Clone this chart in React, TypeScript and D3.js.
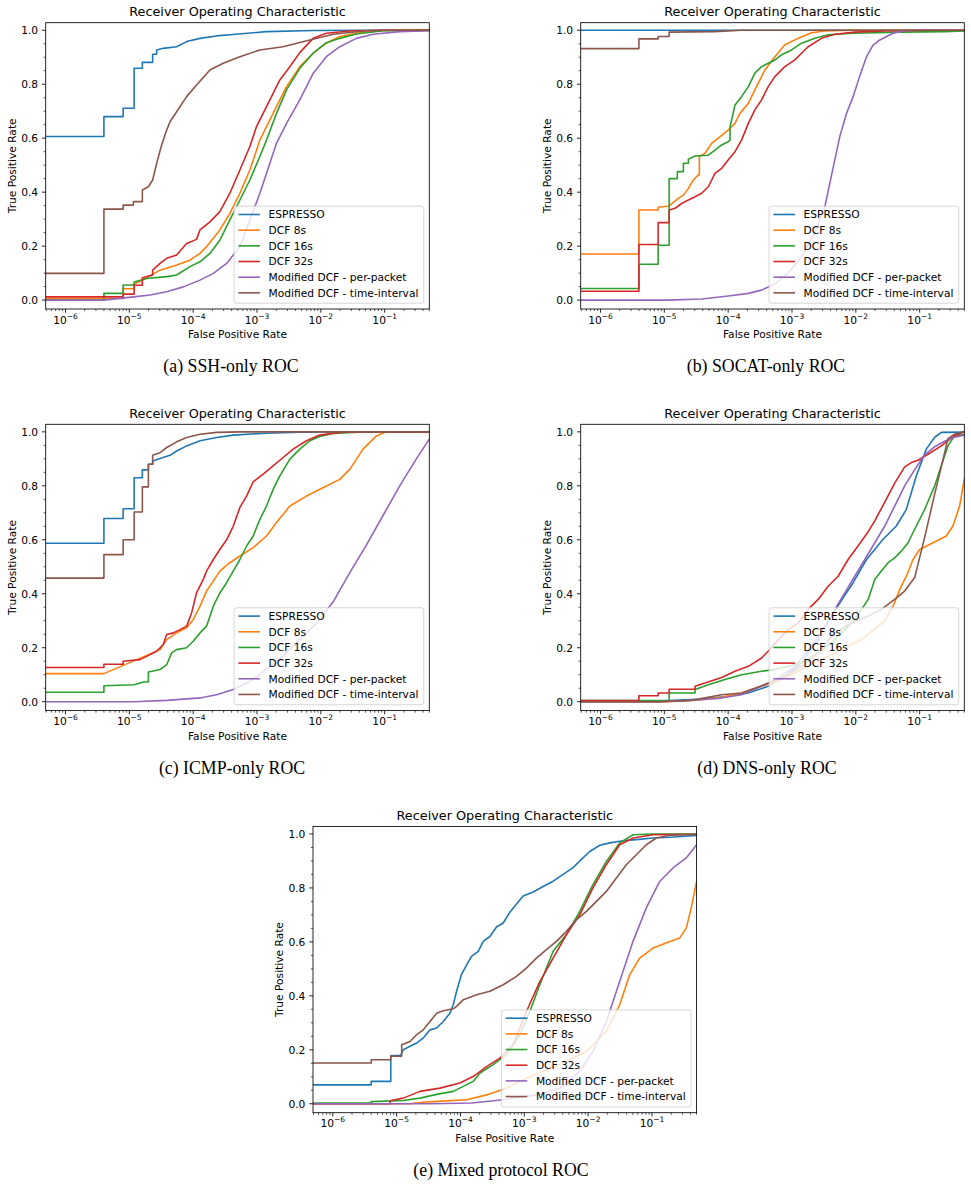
import React from 'react';
import * as d3 from 'd3';

type Pt = [number, number]; // [false positive rate, true positive rate]

// ---------- (a) SSH-only ----------
const sshEspresso: Pt[] = [
  [0, 0.606], [4.0e-6, 0.606], [4.0e-6, 0.68], [8.0e-6, 0.68], [8.0e-6, 0.711], [1.19e-5, 0.711],
  [1.19e-5, 0.859], [1.6e-5, 0.859], [1.6e-5, 0.881], [2.32e-5, 0.881], [2.32e-5, 0.911], [2.68e-5, 0.911],
  [2.68e-5, 0.927], [3.4e-5, 0.933], [5.5e-5, 0.939], [7.9e-5, 0.958], [1.28e-4, 0.97], [2.3e-4, 0.979],
  [4.2e-4, 0.984], [1.4e-3, 0.995], [7.6e-3, 0.999], [0.05, 1.0], [1, 1],
];
const sshDcf8: Pt[] = [
  [0, 0.006], [8.0e-6, 0.006], [8.0e-6, 0.042], [1.19e-5, 0.042], [1.19e-5, 0.06], [1.6e-5, 0.074],
  [1.87e-5, 0.083], [3.03e-5, 0.111], [5.51e-5, 0.13], [8.9e-5, 0.148], [1.28e-4, 0.173], [1.62e-4, 0.198],
  [2.07e-4, 0.229], [2.62e-4, 0.26], [3.76e-4, 0.321], [5.4e-4, 0.396], [7.73e-4, 0.482], [1.11e-3, 0.593],
  [1.41e-3, 0.643], [2.02e-3, 0.717], [2.9e-3, 0.791], [4.68e-3, 0.865], [7.57e-3, 0.915], [1.22e-2, 0.952],
  [1.98e-2, 0.977], [3.6e-2, 0.989], [6.57e-2, 0.997], [0.172, 1.0], [1, 1],
];
const sshDcf16: Pt[] = [
  [0, 0.0], [4.0e-6, 0.0], [4.0e-6, 0.025], [8.0e-6, 0.025], [8.0e-6, 0.056], [1.19e-5, 0.056],
  [1.19e-5, 0.067], [1.87e-5, 0.08], [3.85e-5, 0.087], [5.51e-5, 0.093], [8.9e-5, 0.124], [1.28e-4, 0.142],
  [1.83e-4, 0.173], [2.62e-4, 0.222], [3.76e-4, 0.297], [5.4e-4, 0.371], [7.73e-4, 0.445], [1.11e-3, 0.532],
  [1.41e-3, 0.593], [2.02e-3, 0.692], [2.9e-3, 0.779], [4.68e-3, 0.859], [7.57e-3, 0.915], [1.22e-2, 0.954],
  [1.98e-2, 0.97], [3.6e-2, 0.986], [9.4e-2, 0.998], [1, 1],
];
const sshDcf32: Pt[] = [
  [0, 0.012], [8.0e-6, 0.012], [8.0e-6, 0.022], [1.19e-5, 0.022], [1.19e-5, 0.055], [1.6e-5, 0.055],
  [1.6e-5, 0.083], [2.32e-5, 0.093], [2.32e-5, 0.111], [3.03e-5, 0.136], [3.85e-5, 0.155], [5.51e-5, 0.167],
  [7.9e-5, 0.21], [1.13e-4, 0.225], [1.28e-4, 0.26], [1.83e-4, 0.29], [2.62e-4, 0.328], [3.76e-4, 0.396],
  [5.4e-4, 0.482], [7.73e-4, 0.569], [9.83e-4, 0.643], [1.41e-3, 0.717], [2.28e-3, 0.816], [3.27e-3, 0.865],
  [4.68e-3, 0.917], [7.57e-3, 0.97], [1.22e-2, 0.989], [2.84e-2, 0.997], [9.4e-2, 1.0], [1, 1],
];
const sshPerPacket: Pt[] = [
  [0, 0], [4.0e-6, 0], [1.16e-5, 0.012], [2.11e-5, 0.019], [3.85e-5, 0.031], [7.0e-5, 0.049],
  [1.28e-4, 0.074], [2.07e-4, 0.099], [3.34e-4, 0.136], [5.4e-4, 0.198], [7.73e-4, 0.297], [1.11e-3, 0.396],
  [1.41e-3, 0.47], [2.02e-3, 0.581], [2.9e-3, 0.655], [4.68e-3, 0.742], [7.57e-3, 0.84], [1.22e-2, 0.902],
  [1.98e-2, 0.939], [3.6e-2, 0.97], [6.57e-2, 0.985], [0.172, 0.995], [1, 1],
];
const sshTimeInterval: Pt[] = [
  [0, 0.099], [4.0e-6, 0.099], [4.0e-6, 0.337], [8.0e-6, 0.337], [8.0e-6, 0.352], [1.16e-5, 0.352],
  [1.16e-5, 0.365], [1.6e-5, 0.365], [1.6e-5, 0.408], [1.99e-5, 0.42], [2.32e-5, 0.445], [2.68e-5, 0.507],
  [3.21e-5, 0.575], [3.85e-5, 0.63], [4.34e-5, 0.661], [5.51e-5, 0.698], [7.9e-5, 0.754], [1.13e-4, 0.797],
  [1.83e-4, 0.853], [2.96e-4, 0.878], [5.4e-4, 0.902], [1.11e-3, 0.927], [2.57e-3, 0.939], [6.71e-3, 0.964],
  [1.56e-2, 0.985], [5.16e-2, 0.998], [0.1, 1.0], [1, 1],
];

// ---------- (b) SOCAT-only ----------
const socatEspresso: Pt[] = [[0, 1.0], [1, 1.0]];
const socatDcf8: Pt[] = [
  [0, 0.171], [4.0e-6, 0.171], [4.0e-6, 0.334], [8.0e-6, 0.334], [8.0e-6, 0.344], [1.19e-5, 0.349],
  [1.66e-5, 0.377], [1.99e-5, 0.389], [2.38e-5, 0.414], [2.85e-5, 0.445], [3.41e-5, 0.464], [3.54e-5, 0.464],
  [3.54e-5, 0.532], [4.34e-5, 0.544], [5.51e-5, 0.581], [7.0e-5, 0.6], [1.0e-4, 0.63], [1.28e-4, 0.655],
  [1.53e-4, 0.692], [2.07e-4, 0.729], [2.62e-4, 0.779], [3.76e-4, 0.853], [5.4e-4, 0.902], [7.73e-4, 0.946],
  [1.25e-3, 0.97], [2.02e-3, 0.991], [3.27e-3, 0.997], [8.53e-3, 1.0], [1, 1],
];
const socatDcf16: Pt[] = [
  [0, 0.043], [4.0e-6, 0.043], [4.0e-6, 0.133], [8.0e-6, 0.133], [8.0e-6, 0.203], [1.19e-5, 0.203],
  [1.19e-5, 0.45], [1.6e-5, 0.45], [1.6e-5, 0.476], [1.99e-5, 0.476], [1.99e-5, 0.507], [2.38e-5, 0.507],
  [2.38e-5, 0.522], [3.03e-5, 0.534], [4.89e-5, 0.537], [6.22e-5, 0.556], [7.9e-5, 0.575], [1.0e-4, 0.587],
  [1.07e-4, 0.593], [1.07e-4, 0.643], [1.28e-4, 0.723], [1.62e-4, 0.754], [2.07e-4, 0.791], [2.62e-4, 0.841],
  [3.34e-4, 0.865], [4.24e-4, 0.878], [5.4e-4, 0.89], [6.86e-4, 0.909], [9.83e-4, 0.927], [1.41e-3, 0.952],
  [2.28e-3, 0.97], [3.68e-3, 0.983], [8.53e-3, 0.989], [5.16e-2, 0.993], [0.246, 0.995], [1, 1],
];
const socatDcf32: Pt[] = [
  [0, 0.033], [4.0e-6, 0.033], [4.0e-6, 0.206], [8.0e-6, 0.206], [8.0e-6, 0.287], [1.19e-5, 0.287],
  [1.19e-5, 0.334], [1.47e-5, 0.34], [1.87e-5, 0.358], [2.38e-5, 0.371], [3.03e-5, 0.383], [3.85e-5, 0.396],
  [4.89e-5, 0.42], [6.22e-5, 0.47], [7.9e-5, 0.488], [1.0e-4, 0.519], [1.28e-4, 0.55], [1.62e-4, 0.593],
  [2.07e-4, 0.655], [2.62e-4, 0.705], [3.34e-4, 0.742], [4.24e-4, 0.791], [5.4e-4, 0.828], [7.73e-4, 0.865],
  [1.11e-3, 0.89], [1.79e-3, 0.939], [2.9e-3, 0.97], [4.68e-3, 0.985], [9.62e-3, 0.993], [2.84e-2, 0.997],
  [0.172, 1.0], [1, 1],
];
const socatPerPacket: Pt[] = [
  [0, 0], [1.16e-5, 0], [3.85e-5, 0.004], [1.0e-4, 0.015], [2.07e-4, 0.025], [3.34e-4, 0.037],
  [5.4e-4, 0.06], [8.72e-4, 0.1], [1.41e-3, 0.16], [2.28e-3, 0.25], [3.27e-3, 0.346], [4.4e-3, 0.49],
  [5.6e-3, 0.606], [7.1e-3, 0.69], [9.06e-3, 0.754], [1.15e-2, 0.83], [1.47e-2, 0.902], [1.86e-2, 0.945],
  [2.37e-2, 0.964], [3.83e-2, 0.989], [5.82e-2, 0.998], [9.0e-2, 1.0], [1, 1],
];
const socatTimeInterval: Pt[] = [
  [0, 0.932], [4.0e-6, 0.932], [4.0e-6, 0.968], [8.0e-6, 0.968], [8.0e-6, 0.977], [1.19e-5, 0.977],
  [1.19e-5, 0.993], [6.2e-5, 0.995], [1.62e-4, 1.0], [1, 1],
];

// ---------- (c) ICMP-only ----------
const icmpEspresso: Pt[] = [
  [0, 0.587], [4.0e-6, 0.587], [4.0e-6, 0.679], [8.0e-6, 0.679], [8.0e-6, 0.715], [1.19e-5, 0.715],
  [1.19e-5, 0.83], [1.6e-5, 0.83], [1.6e-5, 0.859], [1.99e-5, 0.859], [1.99e-5, 0.88], [2.32e-5, 0.88],
  [2.32e-5, 0.892], [3.03e-5, 0.901], [4.34e-5, 0.913], [5.51e-5, 0.929], [7.9e-5, 0.948], [1.28e-4, 0.967],
  [2.33e-4, 0.979], [4.24e-4, 0.988], [1.41e-3, 0.995], [4.68e-3, 0.999], [1.56e-2, 1.0], [1, 1],
];
const icmpDcf8: Pt[] = [
  [0, 0.104], [4.0e-6, 0.104], [3.03e-5, 0.193], [3.85e-5, 0.23], [5.51e-5, 0.255], [7.9e-5, 0.274],
  [1.0e-4, 0.304], [1.28e-4, 0.354], [1.62e-4, 0.41], [2.07e-4, 0.447], [2.62e-4, 0.484], [3.76e-4, 0.515],
  [5.4e-4, 0.54], [8.72e-4, 0.571], [1.41e-3, 0.614], [2.02e-3, 0.664], [3.27e-3, 0.725], [5.96e-3, 0.762],
  [1.08e-2, 0.793], [1.98e-2, 0.824], [2.84e-2, 0.861], [4.58e-2, 0.936], [7.41e-2, 0.985], [0.106, 1.0], [1, 1],
];
const icmpDcf16: Pt[] = [
  [0, 0.035], [4.0e-6, 0.035], [4.0e-6, 0.059], [1.19e-5, 0.063], [1.66e-5, 0.073], [1.99e-5, 0.073],
  [1.99e-5, 0.11], [3.03e-5, 0.119], [3.85e-5, 0.137], [4.6e-5, 0.181], [5.51e-5, 0.193], [7.9e-5, 0.2],
  [1.0e-4, 0.224], [1.28e-4, 0.255], [1.62e-4, 0.28], [2.07e-4, 0.354], [2.62e-4, 0.403], [3.34e-4, 0.441],
  [4.24e-4, 0.484], [5.4e-4, 0.527], [6.86e-4, 0.577], [8.72e-4, 0.614], [1.11e-3, 0.676], [1.41e-3, 0.725],
  [1.79e-3, 0.787], [2.28e-3, 0.837], [3.27e-3, 0.899], [4.68e-3, 0.936], [6.71e-3, 0.967], [9.62e-3, 0.983],
  [1.56e-2, 0.994], [3.2e-2, 0.998], [5.16e-2, 1.0], [1, 1],
];
const icmpDcf32: Pt[] = [
  [0, 0.127], [4.0e-6, 0.127], [4.0e-6, 0.139], [8.0e-6, 0.139], [8.0e-6, 0.15], [1.47e-5, 0.156],
  [1.87e-5, 0.168], [2.68e-5, 0.187], [3.41e-5, 0.212], [3.85e-5, 0.249], [4.89e-5, 0.255], [6.22e-5, 0.267],
  [7.9e-5, 0.28], [9.46e-5, 0.329], [1.13e-4, 0.403], [1.44e-4, 0.453], [1.62e-4, 0.484], [2.07e-4, 0.527],
  [2.62e-4, 0.564], [3.34e-4, 0.6], [4.24e-4, 0.65], [5.4e-4, 0.72], [6.86e-4, 0.762], [8.72e-4, 0.815],
  [1.25e-3, 0.843], [1.79e-3, 0.874], [2.57e-3, 0.905], [3.68e-3, 0.936], [5.96e-3, 0.967], [9.62e-3, 0.988],
  [1.98e-2, 0.998], [3.2e-2, 1.0], [1, 1],
];
const icmpPerPacket: Pt[] = [
  [0, 0], [1.16e-5, 0], [3.85e-5, 0.005], [1.28e-4, 0.014], [2.33e-4, 0.026], [4.24e-4, 0.045],
  [7.73e-4, 0.075], [1.41e-3, 0.12], [2.57e-3, 0.17], [4.68e-3, 0.23], [8.53e-3, 0.29], [1.56e-2, 0.37],
  [2.84e-2, 0.478], [5.16e-2, 0.58], [9.42e-2, 0.69], [0.172, 0.8], [0.313, 0.9], [0.5, 0.973], [1, 1],
];
const icmpTimeInterval: Pt[] = [
  [0, 0.458], [4.0e-6, 0.458], [4.0e-6, 0.545], [8.0e-6, 0.545], [8.0e-6, 0.6], [1.19e-5, 0.6],
  [1.19e-5, 0.703], [1.6e-5, 0.703], [1.6e-5, 0.796], [1.99e-5, 0.796], [1.99e-5, 0.88], [2.32e-5, 0.88],
  [2.32e-5, 0.913], [3.03e-5, 0.923], [3.85e-5, 0.942], [5.51e-5, 0.963], [7.9e-5, 0.979], [1.28e-4, 0.991],
  [2.33e-4, 0.998], [5.4e-4, 1.0], [1, 1],
];

// ---------- (d) DNS-only ----------
const dnsEspresso: Pt[] = [
  [0, 0], [8.1e-6, 0], [1.16e-5, 0.004], [3.85e-5, 0.01], [1.0e-4, 0.02], [2.07e-4, 0.032],
  [4.24e-4, 0.057], [7.73e-4, 0.094], [1.41e-3, 0.144], [2.57e-3, 0.23], [4.15e-3, 0.317], [6.32e-3, 0.385],
  [9.06e-3, 0.441], [1.47e-2, 0.527], [2.67e-2, 0.602], [4.31e-2, 0.651], [6.19e-2, 0.713], [8.87e-2, 0.837],
  [0.127, 0.936], [0.172, 0.98], [0.218, 0.998], [1, 1],
];
const dnsDcf8: Pt[] = [
  [0, 0], [1.16e-5, 0], [3.85e-5, 0.007], [7.9e-5, 0.016], [1.62e-4, 0.032], [3.34e-4, 0.057],
  [6.86e-4, 0.082], [1.41e-3, 0.119], [2.9e-3, 0.156], [5.96e-3, 0.193], [1.22e-2, 0.23], [2.23e-2, 0.28],
  [2.84e-2, 0.3], [3.83e-2, 0.354], [4.87e-2, 0.416], [6.19e-2, 0.465], [7.87e-2, 0.527], [0.1, 0.564],
  [0.162, 0.589], [0.261, 0.614], [0.332, 0.651], [0.422, 0.725], [0.5, 0.824], [1, 1],
];
const dnsDcf16: Pt[] = [
  [0, 0.004], [1.19e-5, 0.004], [1.19e-5, 0.032], [3.03e-5, 0.032], [3.03e-5, 0.045], [4.89e-5, 0.063],
  [8.9e-5, 0.082], [1.62e-4, 0.1], [3.34e-4, 0.113], [5.4e-4, 0.119], [8.72e-4, 0.131], [1.41e-3, 0.144],
  [2.57e-3, 0.181], [4.68e-3, 0.23], [9.62e-3, 0.304], [1.56e-2, 0.379], [1.98e-2, 0.453], [2.51e-2, 0.484],
  [3.2e-2, 0.515], [4.06e-2, 0.533], [5.16e-2, 0.558], [6.57e-2, 0.589], [8.35e-2, 0.639], [0.12, 0.713],
  [0.172, 0.8], [0.218, 0.874], [0.277, 0.948], [0.352, 0.985], [0.5, 0.99], [1, 1],
];
const dnsDcf32: Pt[] = [
  [0, 0.004], [4.0e-6, 0.004], [4.0e-6, 0.022], [8.0e-6, 0.022], [8.0e-6, 0.032], [1.19e-5, 0.032],
  [1.19e-5, 0.046], [3.03e-5, 0.046], [3.03e-5, 0.057], [4.34e-5, 0.069], [7.9e-5, 0.09], [1.28e-4, 0.113],
  [2.07e-4, 0.131], [3.34e-4, 0.162], [4.24e-4, 0.187], [6.08e-4, 0.23], [8.72e-4, 0.267], [1.25e-3, 0.292],
  [1.79e-3, 0.342], [2.57e-3, 0.379], [3.68e-3, 0.428], [5.28e-3, 0.465], [7.57e-3, 0.527], [1.08e-2, 0.577],
  [1.56e-2, 0.63], [1.98e-2, 0.67], [2.84e-2, 0.74], [4.06e-2, 0.81], [5.82e-2, 0.87], [7.41e-2, 0.886],
  [9.42e-2, 0.895], [0.135, 0.917], [0.218, 0.948], [0.352, 0.985], [0.5, 1.0], [1, 1],
];
const dnsPerPacket: Pt[] = [
  [0, 0], [8.1e-6, 0], [2.11e-5, 0.004], [7.0e-5, 0.012], [1.62e-4, 0.026], [3.34e-4, 0.057],
  [6.08e-4, 0.088], [1.11e-3, 0.131], [2.02e-3, 0.205], [3.27e-3, 0.28], [4.68e-3, 0.342], [6.71e-3, 0.403],
  [9.62e-3, 0.465], [1.38e-2, 0.527], [1.98e-2, 0.589], [2.84e-2, 0.651], [4.06e-2, 0.725], [5.82e-2, 0.8],
  [8.35e-2, 0.86], [0.12, 0.915], [0.172, 0.945], [0.246, 0.965], [0.352, 0.98], [0.5, 0.988], [1, 1],
];
const dnsTimeInterval: Pt[] = [
  [0, 0], [8.1e-6, 0], [2.68e-5, 0.005], [7.9e-5, 0.026], [1.62e-4, 0.032], [3.34e-4, 0.059],
  [6.86e-4, 0.088], [1.41e-3, 0.131], [2.57e-3, 0.181], [4.68e-3, 0.255], [8.53e-3, 0.292], [1.56e-2, 0.317],
  [2.51e-2, 0.342], [4.06e-2, 0.379], [5.82e-2, 0.41], [8.35e-2, 0.46], [0.12, 0.61], [0.172, 0.77],
  [0.218, 0.87], [0.277, 0.975], [0.352, 0.991], [0.5, 1.0], [1, 1],
];

// ---------- (e) Mixed protocol ----------
const mixedEspresso: Pt[] = [
  [0, 0.07], [4.0e-6, 0.07], [4.0e-6, 0.083], [8.1e-6, 0.083], [8.1e-6, 0.178], [1.16e-5, 0.18],
  [1.27e-5, 0.2], [1.62e-5, 0.213], [2.06e-5, 0.225], [2.62e-5, 0.244], [3.33e-5, 0.274], [4.24e-5, 0.281],
  [5.38e-5, 0.305], [6.84e-5, 0.336], [7.71e-5, 0.367], [8.7e-5, 0.417], [1.04e-4, 0.48], [1.25e-4, 0.515],
  [1.49e-4, 0.546], [1.9e-4, 0.565], [2.27e-4, 0.602], [2.89e-4, 0.62], [3.67e-4, 0.655], [4.67e-4, 0.67],
  [5.94e-4, 0.71], [7.55e-4, 0.74], [9.6e-4, 0.77], [1.38e-3, 0.785], [1.97e-3, 0.805], [2.83e-3, 0.825],
  [4.05e-3, 0.85], [5.81e-3, 0.875], [7.39e-3, 0.9], [1.06e-2, 0.935], [1.52e-2, 0.958], [2.18e-2, 0.967],
  [3.52e-2, 0.975], [5.69e-2, 0.979], [0.104, 0.985], [0.189, 0.988], [0.5, 0.994], [1, 1],
];
const mixedDcf8: Pt[] = [
  [0, 0], [1.6e-5, 0], [2.32e-5, 0.005], [4.24e-5, 0.009], [1.25e-4, 0.015], [2.56e-4, 0.033],
  [5.27e-4, 0.058], [1.08e-3, 0.095], [2.22e-3, 0.126], [4.57e-3, 0.157], [9.4e-3, 0.194], [1.93e-2, 0.268],
  [3.12e-2, 0.367], [4.47e-2, 0.478], [6.41e-2, 0.54], [0.104, 0.577], [0.167, 0.596], [0.271, 0.614],
  [0.344, 0.651], [0.412, 0.726], [0.5, 0.824], [1, 1],
];
const mixedDcf16: Pt[] = [
  [0, 0.003], [4.0e-6, 0.003], [4.0e-6, 0.008], [1.27e-5, 0.012], [2.32e-5, 0.021], [4.24e-5, 0.035],
  [7.71e-5, 0.046], [1.58e-4, 0.083], [2.02e-4, 0.114], [3.26e-4, 0.145], [5.27e-4, 0.182], [8.51e-4, 0.256],
  [1.22e-3, 0.342], [1.75e-3, 0.441], [2.83e-3, 0.565], [4.57e-3, 0.627], [7.39e-3, 0.713], [1.19e-2, 0.812],
  [1.93e-2, 0.898], [3.12e-2, 0.967], [5.05e-2, 0.997], [0.1, 1.0], [1, 1],
];
const mixedDcf32: Pt[] = [
  [0, 0.0], [7.9e-6, 0.0], [7.9e-6, 0.011], [1.27e-5, 0.021], [2.32e-5, 0.046], [4.77e-5, 0.058],
  [9.8e-5, 0.077], [1.58e-4, 0.101], [2.56e-4, 0.138], [4.14e-4, 0.169], [6.7e-4, 0.219], [1.08e-3, 0.342],
  [1.75e-3, 0.453], [2.83e-3, 0.54], [4.57e-3, 0.627], [7.39e-3, 0.7], [1.19e-2, 0.8], [1.93e-2, 0.886],
  [3.12e-2, 0.96], [5.05e-2, 0.985], [0.104, 0.997], [1, 1],
];
const mixedPerPacket: Pt[] = [
  [0, 0], [3.3e-5, 0], [1.5e-4, 0.003], [4.67e-4, 0.015], [1.55e-3, 0.033], [3.6e-3, 0.058],
  [7.39e-3, 0.12], [1.19e-2, 0.194], [1.93e-2, 0.305], [3.12e-2, 0.453], [5.05e-2, 0.602], [8.15e-2, 0.726],
  [0.132, 0.824], [0.213, 0.874], [0.344, 0.911], [0.5, 0.96], [1, 1],
];
const mixedTimeInterval: Pt[] = [
  [0, 0.151], [4.0e-6, 0.151], [4.0e-6, 0.163], [8.1e-6, 0.163], [8.1e-6, 0.176], [1.2e-5, 0.176],
  [1.2e-5, 0.219], [1.62e-5, 0.231], [2.06e-5, 0.256], [2.62e-5, 0.274], [3.33e-5, 0.305], [4.24e-5, 0.336],
  [5.38e-5, 0.345], [7.71e-5, 0.352], [8.7e-5, 0.361], [1.11e-4, 0.386], [1.79e-4, 0.404], [2.89e-4, 0.417],
  [4.67e-4, 0.441], [7.55e-4, 0.472], [1.08e-3, 0.503], [1.55e-3, 0.54], [2.22e-3, 0.571], [3.19e-3, 0.602],
  [4.57e-3, 0.639], [6.55e-3, 0.682], [9.4e-3, 0.713], [1.35e-2, 0.75], [1.93e-2, 0.787], [2.77e-2, 0.837],
  [3.96e-2, 0.886], [5.69e-2, 0.923], [8.15e-2, 0.96], [0.117, 0.985], [0.189, 0.995], [1, 1],
];

// ---------- shared labels ----------
const SERIES_NAMES = [
  'ESPRESSO',
  'DCF 8s',
  'DCF 16s',
  'DCF 32s',
  'Modified DCF - per-packet',
  'Modified DCF - time-interval',
];
const SERIES_COLORS = ['#1f77b4', '#ff7f0e', '#2ca02c', '#d62728', '#9467bd', '#8c564b'];

const PANEL_CAPTIONS = [
  '(a) SSH-only ROC',
  '(b) SOCAT-only ROC',
  '(c) ICMP-only ROC',
  '(d) DNS-only ROC',
  '(e) Mixed protocol ROC',
];
const PANEL_SERIES: Pt[][][] = [
  [sshEspresso, sshDcf8, sshDcf16, sshDcf32, sshPerPacket, sshTimeInterval],
  [socatEspresso, socatDcf8, socatDcf16, socatDcf32, socatPerPacket, socatTimeInterval],
  [icmpEspresso, icmpDcf8, icmpDcf16, icmpDcf32, icmpPerPacket, icmpTimeInterval],
  [dnsEspresso, dnsDcf8, dnsDcf16, dnsDcf32, dnsPerPacket, dnsTimeInterval],
  [mixedEspresso, mixedDcf8, mixedDcf16, mixedDcf32, mixedPerPacket, mixedTimeInterval],
];

const TITLE = 'Receiver Operating Characteristic';
const X_LABEL = 'False Positive Rate';
const Y_LABEL = 'True Positive Rate';

const X_DOMAIN: [number, number] = [4.9e-7, 0.5];
const Y_DOMAIN: [number, number] = [-0.033, 1.028];
const X_MAJOR = [1e-6, 1e-5, 1e-4, 1e-3, 1e-2, 1e-1];
const X_EXPONENTS = ['\u22126', '\u22125', '\u22124', '\u22123', '\u22122', '\u22121'];
const Y_MAJOR = [0, 0.2, 0.4, 0.6, 0.8, 1.0];
const Y_TICK_LABELS = ['0.0', '0.2', '0.4', '0.6', '0.8', '1.0'];

// ---------- layout ----------
const FIG_W = 971;
const FIG_H = 1188;
const AX_W = 383.6;
const AX_H = 286.3;
const PANEL_POS = [
  { left: 45.7, top: 22.7, capX: 231, capY: 372.3 },
  { left: 580.7, top: 22.7, capX: 766, capY: 372.3 },
  { left: 45.7, top: 424.3, capX: 232, capY: 774.3 },
  { left: 580.7, top: 424.3, capX: 767, capY: 774.3 },
  { left: 313, top: 826.4, capX: 501, capY: 1176.3 },
];

const SANS = '"DejaVu Sans", Verdana, sans-serif';
const SERIF = '"Liberation Serif", "Times New Roman", serif';
const FS = 10.67;

function Panel({ idx }: { idx: number }) {
  const { left, top, capX, capY } = PANEL_POS[idx];
  const right = left + AX_W;
  const bottom = top + AX_H;
  const x = d3.scaleLog().domain(X_DOMAIN).range([left, right]);
  const y = d3.scaleLinear().domain(Y_DOMAIN).range([bottom, top]);
  const line = d3
    .line<Pt>()
    .x((d) => x(Math.max(d[0], X_DOMAIN[0])))
    .y((d) => y(d[1]));

  const minorX: number[] = [];
  for (let e = -7; e <= 0; e++) {
    for (let m = 2; m <= 9; m++) {
      const v = m * Math.pow(10, e);
      if (v >= X_DOMAIN[0] && v <= X_DOMAIN[1] * 1.0001) minorX.push(v);
    }
  }
  const minorY = d3
    .range(1, 21)
    .map((i) => i * 0.05)
    .filter((v) => Math.abs(v / 0.2 - Math.round(v / 0.2)) > 1e-6 && v <= Y_DOMAIN[1]);

  const clipId = `axes-clip-${idx}`;
  const lgW = 189.7;
  const lgH = 97;
  const lgX = right - 5.5 - lgW;
  const lgY = bottom - 5.8 - lgH;
  const cx = (left + right) / 2;
  const cy = (top + bottom) / 2;

  return (
    <g>
      <defs>
        <clipPath id={clipId}>
          <rect x={left} y={top} width={AX_W} height={AX_H} />
        </clipPath>
      </defs>

      {/* ROC curves */}
      <g clipPath={`url(#${clipId})`}>
        {PANEL_SERIES[idx].map((s, i) => (
          <path
            key={i}
            d={line(s) || ''}
            fill="none"
            stroke={SERIES_COLORS[i]}
            strokeWidth={1.6}
            strokeLinejoin="round"
          />
        ))}
      </g>

      {/* frame */}
      <rect x={left} y={top} width={AX_W} height={AX_H} fill="none" stroke="#000" strokeWidth={0.85} />

      {/* x ticks */}
      {minorX.map((v, i) => (
        <line key={`xm${i}`} x1={x(v)} x2={x(v)} y1={bottom} y2={bottom + 2.1} stroke="#000" strokeWidth={0.64} />
      ))}
      {X_MAJOR.map((v, i) => (
        <g key={`xM${i}`}>
          <line x1={x(v)} x2={x(v)} y1={bottom} y2={bottom + 3.7} stroke="#000" strokeWidth={0.85} />
          <text x={x(v)} y={bottom + 14.7} textAnchor="middle" fontFamily={SANS} fontSize={FS} fill="#000">
            <tspan>10</tspan>
            <tspan fontSize={7.5} dy={-5.2}>
              {X_EXPONENTS[i]}
            </tspan>
          </text>
        </g>
      ))}

      {/* y ticks */}
      {minorY.map((v, i) => (
        <line key={`ym${i}`} x1={left - 2.1} x2={left} y1={y(v)} y2={y(v)} stroke="#000" strokeWidth={0.64} />
      ))}
      {Y_MAJOR.map((v, i) => (
        <g key={`yM${i}`}>
          <line x1={left - 3.7} x2={left} y1={y(v)} y2={y(v)} stroke="#000" strokeWidth={0.85} />
          <text x={left - 7.6} y={y(v) + 3.9} textAnchor="end" fontFamily={SANS} fontSize={FS} fill="#000">
            {Y_TICK_LABELS[i]}
          </text>
        </g>
      ))}

      {/* labels */}
      <text x={cx} y={top - 6.7} textAnchor="middle" fontFamily={SANS} fontSize={12.8} fill="#000">
        {TITLE}
      </text>
      <text x={cx} y={bottom + 29.3} textAnchor="middle" fontFamily={SANS} fontSize={FS} fill="#000">
        {X_LABEL}
      </text>
      <text
        transform={`translate(${left - 29.7},${cy}) rotate(-90)`}
        textAnchor="middle"
        fontFamily={SANS}
        fontSize={FS}
        fill="#000"
      >
        {Y_LABEL}
      </text>

      {/* legend */}
      <rect
        x={lgX}
        y={lgY}
        width={lgW}
        height={lgH}
        rx={2.5}
        fill="#fff"
        fillOpacity={0.8}
        stroke="#cccccc"
        strokeOpacity={0.8}
        strokeWidth={1}
      />
      {SERIES_NAMES.map((name, i) => {
        const ry = lgY + 8.3 + i * 15.67;
        return (
          <g key={`lg${i}`}>
            <line x1={lgX + 4.3} x2={lgX + 25.9} y1={ry} y2={ry} stroke={SERIES_COLORS[i]} strokeWidth={1.6} />
            <text x={lgX + 34.5} y={ry + 3.9} fontFamily={SANS} fontSize={FS} fill="#000">
              {name}
            </text>
          </g>
        );
      })}

      {/* caption */}
      <text x={capX} y={capY} textAnchor="middle" fontFamily={SERIF} fontSize={17.8} fill="#000">
        {PANEL_CAPTIONS[idx]}
      </text>
    </g>
  );
}

export default function App() {
  return (
    <svg
      width={FIG_W}
      height={FIG_H}
      viewBox={`0 0 ${FIG_W} ${FIG_H}`}
      style={{ position: 'absolute', left: 0, top: 0, background: '#fff' }}
    >
      <rect x={0} y={0} width={FIG_W} height={FIG_H} fill="#fff" />
      {PANEL_POS.map((_, i) => (
        <Panel key={i} idx={i} />
      ))}
    </svg>
  );
}
